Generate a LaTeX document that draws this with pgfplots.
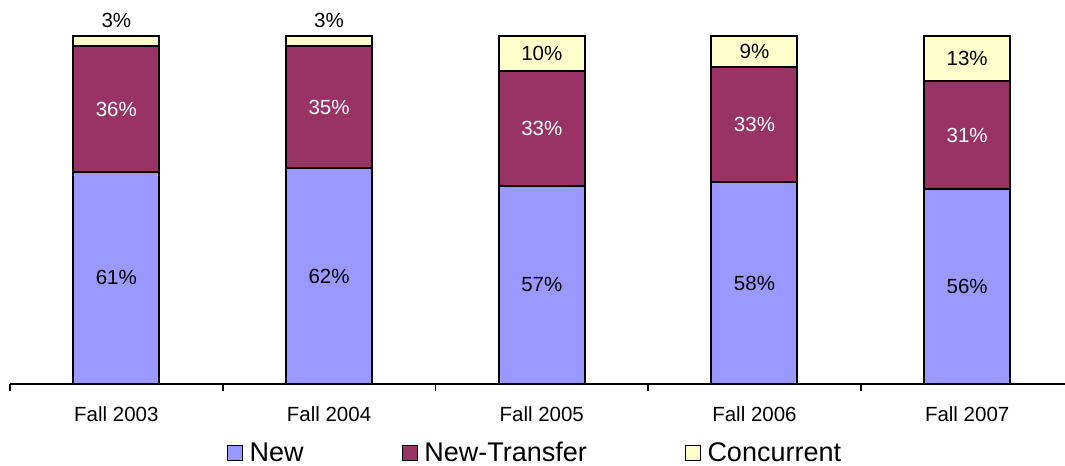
\documentclass[border=0pt]{standalone}
\usepackage{fontspec}
\setmainfont{Liberation Sans}
\usepackage{pgfplots}
\usepackage{pgfplotstable}
\pgfplotsset{compat=1.18}
\definecolor{cnew}{HTML}{9999FF}
\definecolor{ctrans}{HTML}{993366}
\definecolor{cconc}{HTML}{FFFFCC}

\pgfplotstableread{
x new trans conc
0 61 36 3
1 62 35 3
2 57 33 10
3 58 33 9
4 56 31 13
}\enroll

\pgfplotsset{
  common/.style={
    scale only axis, width=1055bp, height=348bp,
    xmin=-0.5, xmax=4.46, ymin=0, ymax=100,
    clip=false,
  },
}

\begin{document}
\begin{tikzpicture}
\path[use as bounding box] (-10bp,-82bp) rectangle (1055bp,384bp);
\begin{axis}[common,
  ybar stacked, bar width=86bp,
  axis x line=bottom, axis y line=none,
  x axis line style={line width=1.8bp, -},
  xtick={0,...,4},
  xticklabels={Fall 2003,Fall 2004,Fall 2005,Fall 2006,Fall 2007},
  minor xtick={-0.5,0.5,1.5,2.5,3.5},
  major tick length=0pt, minor tick length=7bp, tick align=outside,
  tick style={line width=1.8bp, black},
  xticklabel style={font=\fontsize{20.5bp}{24bp}\selectfont, yshift=-19bp},
  legend columns=3,
  legend style={at={(0.4976,-0.198)}, anchor=center, draw=none,
    font=\fontsize{27bp}{30bp}\selectfont,
    /tikz/every even column/.append style={column sep=96bp}},
  legend image code/.code={\draw[#1,draw=black,line width=1.4bp] (0bp,-7.5bp) rectangle (15bp,7.5bp);
    \path (19bp,0bp);},
]
\addplot[fill=cnew, draw=black, line width=2bp] table[x=x,y=new]{\enroll};
\addplot[fill=ctrans, draw=black, line width=2bp] table[x=x,y=trans]{\enroll};
\addplot[fill=cconc, draw=black, line width=2bp] table[x=x,y=conc]{\enroll};
\legend{New,New-Transfer,Concurrent}
\end{axis}
\begin{axis}[common, axis lines=none, ticks=none,
  nodes near coords, point meta=explicit symbolic,
  nodes near coords align=center,
  every node near coord/.append style={font=\fontsize{20.5bp}{24bp}\selectfont}]
\addplot[draw=none, mark=none, nodes near coords style={black}] coordinates {
  (0,30.5)[61\%] (1,31)[62\%] (2,28.5)[57\%] (3,29)[58\%] (4,28)[56\%]
  (0,104.6)[3\%] (1,104.6)[3\%] (2,95)[10\%] (3,95.5)[9\%] (4,93.5)[13\%]
};
\addplot[draw=none, mark=none, nodes near coords style={white}] coordinates {
  (0,79)[36\%] (1,79.5)[35\%] (2,73.5)[33\%] (3,74.5)[33\%] (4,71.5)[31\%]
};
\end{axis}
\end{tikzpicture}
\end{document}
